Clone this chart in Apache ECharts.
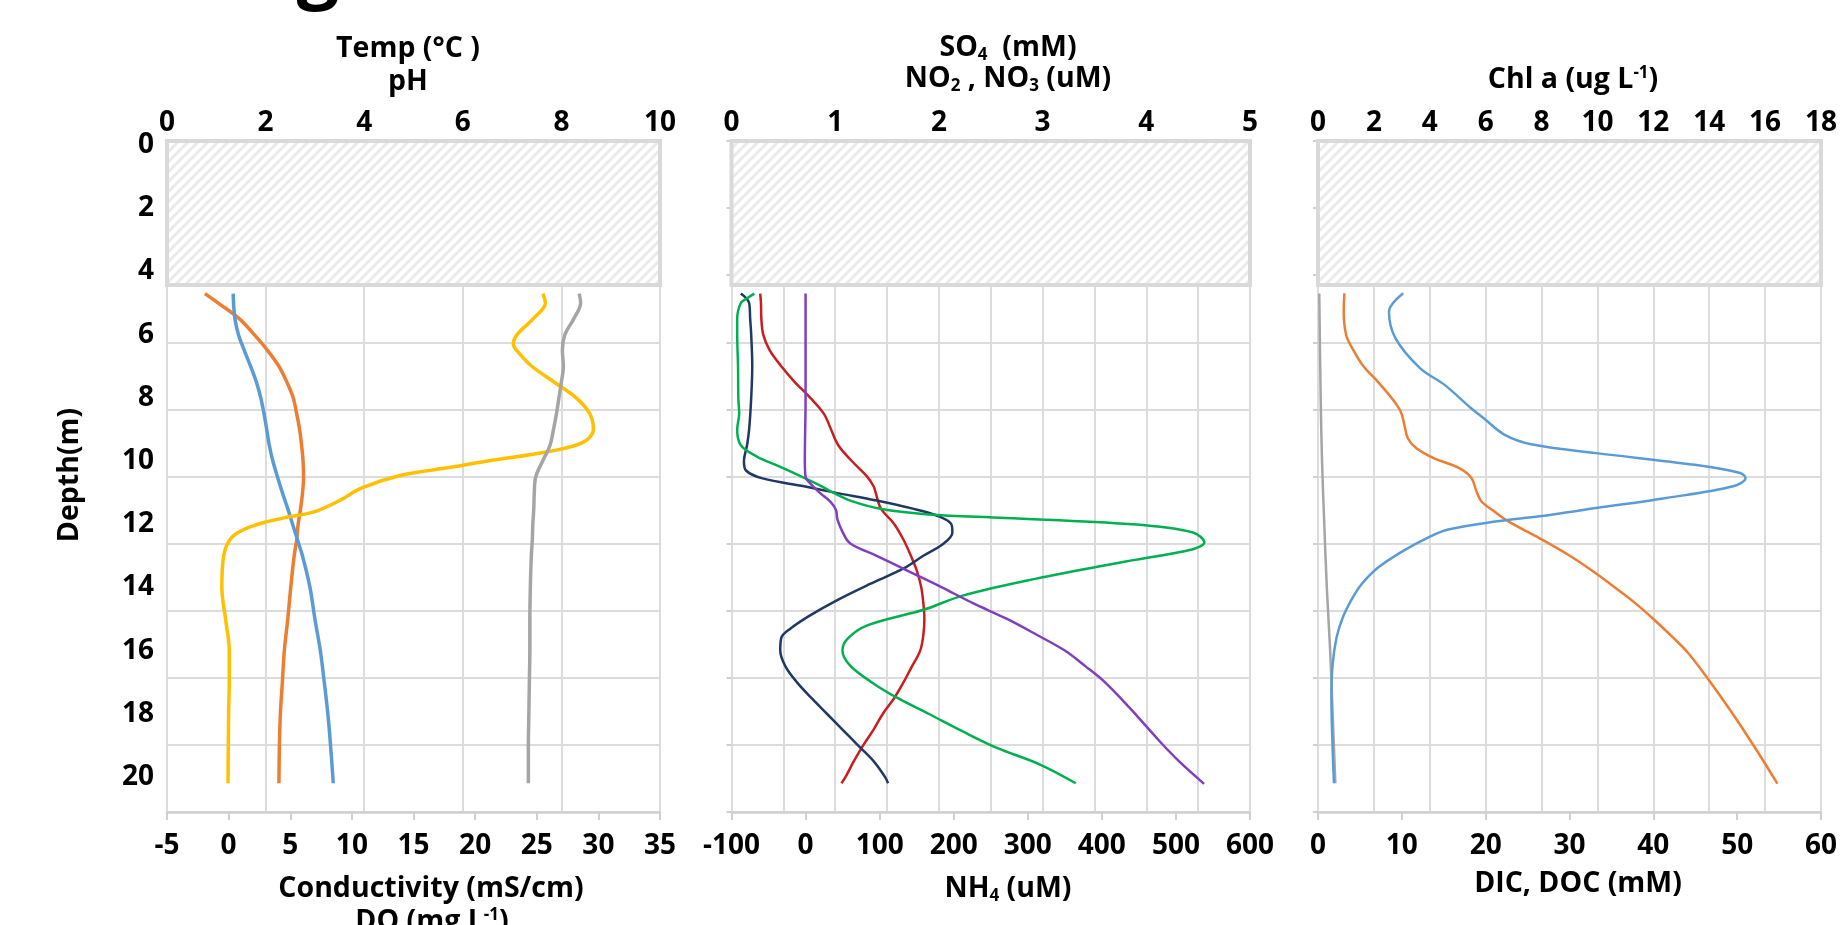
<!DOCTYPE html>
<html>
<head>
<meta charset="utf-8">
<script src="https://cdn.jsdelivr.net/npm/echarts@6/dist/echarts.min.js"></script>
<style>
  html, body { margin: 0; padding: 0; background: #fff; }
  #main { width: 1840px; height: 925px; }
</style>
</head>
<body>
<div id="main"></div>
<script>
// depth axis (m), the hatched band has no data
var DEPTH_MIN = -0.13, DEPTH_MAX = 21.11, HATCH_BOTTOM = 4.43;
var DEPTH_TICKS_MAX = 20;

// panel 1 : Temp, pH (top axis)  /  Conductivity, DO (bottom axis)
var p1Depth = [4.7, 5, 5.5, 6, 6.5, 7, 7.5, 8, 8.5, 9, 9.5, 10, 10.5, 11, 11.5, 12, 12.5, 13, 14, 15, 16, 17, 18, 19, 20.2];
var tempVal = [0.77, 1.04, 1.47, 1.77, 2.04, 2.27, 2.43, 2.56, 2.63, 2.69, 2.73, 2.76, 2.77, 2.75, 2.71, 2.66, 2.63, 2.58, 2.51, 2.45, 2.38, 2.34, 2.30, 2.28, 2.27];
var condVal = [0.37, 0.40, 0.51, 0.80, 1.27, 1.78, 2.25, 2.61, 2.87, 3.09, 3.30, 3.59, 3.96, 4.36, 4.79, 5.19, 5.59, 5.99, 6.60, 7.00, 7.44, 7.76, 8.05, 8.27, 8.49];
var phVal = [8.36, 8.39, 8.25, 8.07, 8.02, 8.04, 8.00, 7.95, 7.90, 7.84, 7.77, 7.62, 7.48, 7.45, 7.44, 7.42, 7.41, 7.39, 7.37, 7.36, 7.36, 7.35, 7.34, 7.33, 7.33];
var doDepth = [4.7, 5, 5.5, 6, 6.3, 6.6, 7, 7.5, 8, 8.5, 9, 9.4, 9.7, 10.0, 10.2, 10.45, 10.85, 11.25, 11.6, 11.8, 12.05, 12.4, 13, 14, 15, 16, 17, 18, 20.2];
var doVal = [25.5, 25.7, 24.7, 23.4, 23.1, 23.6, 24.6, 26.4, 28.2, 29.3, 29.6, 28.8, 26.0, 21.0, 18.0, 14.0, 10.8, 9.0, 7.0, 4.5, 2.0, 0.3, -0.4, -0.55, -0.25, 0.05, 0.05, 0.0, -0.05];

// panel 2 : SO4 (mM), NO2, NO3 (uM) (top axis)  /  NH4 (uM) (bottom axis)
var so4Depth = [4.7, 5, 5.5, 6, 6.5, 7, 7.5, 8, 8.5, 9, 9.5, 10, 10.5, 10.8, 11, 11.5, 12, 12.5, 13, 13.5, 14, 14.5, 15, 15.5, 16, 16.5, 17, 17.5, 18, 18.5, 19, 19.5, 20, 20.2];
var so4Val = [0.277, 0.284, 0.288, 0.306, 0.369, 0.48, 0.61, 0.76, 0.89, 0.96, 1.03, 1.16, 1.31, 1.37, 1.39, 1.44, 1.57, 1.66, 1.73, 1.79, 1.83, 1.85, 1.86, 1.85, 1.82, 1.74, 1.66, 1.57, 1.46, 1.37, 1.27, 1.18, 1.10, 1.06];
var no3Depth = [4.7, 5, 5.5, 6, 7, 8, 9, 9.5, 10, 10.3, 10.55, 10.8, 11, 11.25, 11.5, 11.75, 12, 12.26, 12.6, 13, 13.4, 13.9, 14.4, 14.9, 15.3, 15.6, 16, 16.5, 17, 17.5, 18, 18.5, 19, 19.5, 20, 20.2];
var no3Val = [0.09, 0.17, 0.18, 0.19, 0.20, 0.19, 0.17, 0.15, 0.12, 0.14, 0.30, 0.70, 1.00, 1.40, 1.74, 2.00, 2.12, 2.13, 2.05, 1.85, 1.66, 1.33, 1.02, 0.75, 0.57, 0.48, 0.47, 0.52, 0.63, 0.77, 0.92, 1.07, 1.22, 1.37, 1.48, 1.51];
var no2Depth = [4.7, 4.85, 5, 5.5, 6, 7, 8, 8.5, 9, 9.5, 9.85, 10.17, 10.5, 10.8, 11, 11.27, 11.53, 11.69, 11.8, 12, 12.26, 12.58, 12.79, 13.21, 13.73, 14.26, 14.7, 15.2, 15.62, 16, 16.46, 17, 17.5, 18, 18.56, 19.08, 19.6, 20.2];
var no2Val = [0.22, 0.15, 0.09, 0.055, 0.055, 0.063, 0.066, 0.074, 0.055, 0.09, 0.24, 0.46, 0.68, 0.87, 0.98, 1.16, 1.46, 1.90, 2.64, 3.86, 4.45, 4.56, 4.45, 3.75, 2.93, 2.23, 1.86, 1.31, 1.12, 1.07, 1.14, 1.35, 1.60, 1.90, 2.23, 2.56, 2.97, 3.32];
var nh4Depth = [4.7, 6, 8, 10, 10.5, 10.7, 11, 11.3, 11.55, 11.85, 12.25, 12.6, 13, 13.5, 14, 14.5, 15, 15.5, 16, 16.5, 17, 17.8, 18.87, 19.5, 20.22];
var nh4Val = [0, 0, 0, -1, 0, 6, 19, 34, 41, 43, 50, 60, 96, 140, 184, 226, 272, 312, 350, 378, 404, 437, 478, 504, 538];

// panel 3 : Chl a (top axis)  /  DIC, DOC (bottom axis)
var docDepth = [4.7, 8, 10, 12, 14, 16, 18, 20.2];
var docVal = [0.15, 0.32, 0.48, 0.75, 1.05, 1.45, 1.75, 2.07];
var dicDepth = [4.69, 5.27, 6.01, 6.48, 7.01, 7.48, 8.01, 8.43, 8.85, 9.27, 9.59, 9.91, 10.22, 10.54, 10.96, 11.28, 11.59, 11.91, 12.44, 12.96, 13.49, 14.02, 14.49, 15.0, 15.6, 16.06, 16.85, 17.86, 19.02, 20.21];
var dicVal = [3.15, 3.07, 3.36, 4.2, 5.45, 7.1, 8.8, 9.86, 10.3, 10.7, 11.7, 13.8, 16.8, 18.3, 18.9, 19.5, 21.0, 22.7, 26.4, 29.8, 32.8, 35.5, 37.8, 40.0, 42.4, 44.1, 46.4, 49.1, 52.0, 54.8];
var chlDepth = [4.69, 5.27, 6.11, 7.06, 7.59, 8.33, 8.64, 9.17, 9.48, 9.75, 10.12, 10.38, 10.54, 10.8, 11.17, 11.49, 11.75, 11.91, 12.17, 12.44, 12.86, 13.38, 13.91, 14.39, 14.97, 15.6, 16.48, 17.5, 19.0, 20.2];
var chlVal = [3.05, 2.54, 2.77, 3.65, 4.53, 5.48, 5.92, 6.68, 7.68, 9.95, 13.48, 15.11, 15.3, 14.86, 12.47, 9.95, 7.93, 6.42, 4.66, 3.9, 3.02, 2.14, 1.55, 1.2, 0.88, 0.66, 0.52, 0.48, 0.52, 0.57];

var FONT = '"Open Sans", "Noto Sans", sans-serif';
var GRID_TOP = 141, GRID_H = 671;
var GRID_LINE = '#dcdcdc';
var TICK_SIZE = 28, TITLE_SIZE = 28.5;

function hatchPattern() {
    var c = document.createElement('canvas');
    c.width = 10; c.height = 10;
    var g = c.getContext('2d');
    g.fillStyle = '#fff';
    g.fillRect(0, 0, 10, 10);
    g.strokeStyle = '#eaeaea';
    g.lineWidth = 3;
    g.beginPath();
    g.moveTo(-5, 15); g.lineTo(15, -5);
    g.moveTo(-10, 10); g.lineTo(10, -10);
    g.moveTo(0, 20); g.lineTo(20, 0);
    g.stroke();
    return c;
}
var hatch = hatchPattern();

function pairs(vals, depths) {
    return vals.map(function (v, i) { return [v, depths[i]]; });
}

function profile(name, vals, depths, color, width, xIdx, yIdx) {
    return {
        name: name, type: 'line', xAxisIndex: xIdx, yAxisIndex: yIdx,
        data: pairs(vals, depths), smooth: 0.35, showSymbol: false, symbol: 'none',
        silent: true, lineStyle: { color: color, width: width }, itemStyle: { color: color }
    };
}

function withHatch(s) {
    s.markArea = {
        silent: true,
        label: { show: false },
        itemStyle: { color: { image: hatch, repeat: 'repeat' }, borderColor: '#d9d9d9', borderWidth: 4, opacity: 1 },
        data: [[{ yAxis: DEPTH_MIN }, { yAxis: HATCH_BOTTOM }]]
    };
    return s;
}

var tickLabel = { fontSize: TICK_SIZE, fontWeight: 'bold', fontFamily: FONT, color: '#000' };

function bottomAxis(grid, min, max, interval) {
    return {
        type: 'value', gridIndex: grid, position: 'bottom', min: min, max: max, interval: interval,
        axisLine: { show: true, onZero: false, lineStyle: { color: '#d0d0d0', width: 2.5 } },
        axisTick: { show: true, length: 8, lineStyle: { color: '#d0d0d0', width: 2 } },
        axisLabel: Object.assign({ margin: 20 }, tickLabel),
        splitLine: { show: false }
    };
}

function topAxis(grid, min, max, interval, fmt) {
    return {
        type: 'value', gridIndex: grid, position: 'top', min: min, max: max, interval: interval,
        axisLine: { show: false }, axisTick: { show: false },
        axisLabel: Object.assign({ margin: 4, formatter: fmt }, tickLabel),
        splitLine: { show: true, lineStyle: { color: GRID_LINE, width: 2 } }
    };
}

function depthAxis(grid) {
    return { type: 'value', gridIndex: grid, inverse: true, min: DEPTH_MIN, max: DEPTH_MAX, show: false };
}

function rowLines(grid, ticks) {
    return {
        type: 'value', gridIndex: grid, min: 0, max: 10, interval: 1, position: 'left',
        axisLine: { show: false },
        axisTick: { show: ticks, length: 5, lineStyle: { color: '#d0d0d0', width: 2 } },
        axisLabel: { show: false },
        splitLine: { show: true, lineStyle: { color: GRID_LINE, width: 2 } }
    };
}

// the depth labels sit on their own grid, 0..20 m, scaled like the data grids
var span = DEPTH_MAX - DEPTH_MIN;
var labelTop = GRID_TOP + (0 - DEPTH_MIN) / span * GRID_H;
var labelH = DEPTH_TICKS_MAX / span * GRID_H;

function rich(extra) {
    var base = { fontSize: TITLE_SIZE, fontWeight: 'bold', fontFamily: FONT, fill: '#000' };
    return Object.assign(base, extra || {});
}
var richSet = {
    b: rich(),
    sub: rich({ fontSize: 17, padding: [15, 0, 0, 0] }),
    sup: rich({ fontSize: 17, padding: [0, 0, 13, 0] })
};

function title(x, y, text) {
    return {
        type: 'text', x: x, y: y, silent: true,
        style: { text: text, rich: richSet, align: 'center', verticalAlign: 'middle', fontSize: TITLE_SIZE, fontWeight: 'bold', fontFamily: FONT, fill: '#000' }
    };
}

var option = {
    animation: false,
    backgroundColor: '#fff',
    grid: [
        { left: 167, top: GRID_TOP, width: 493, height: GRID_H },
        { left: 731.5, top: GRID_TOP, width: 518.5, height: GRID_H },
        { left: 1318, top: GRID_TOP, width: 512, height: GRID_H },
        { left: 167, top: labelTop, width: 493, height: labelH }
    ],
    xAxis: [
        bottomAxis(0, -5, 35, 5),
        topAxis(0, 0, 10, 2),
        bottomAxis(1, -100, 600, 100),
        topAxis(1, 0, 5, 0.5, function (v) { return Number.isInteger(v) ? String(v) : ''; }),
        bottomAxis(2, 0, 60, 10),
        topAxis(2, 0, 18, 2),
        { type: 'value', gridIndex: 3, show: false }
    ],
    yAxis: [
        depthAxis(0), rowLines(0, false),
        depthAxis(1), rowLines(1, true),
        depthAxis(2), rowLines(2, true),
        {
            type: 'value', gridIndex: 3, inverse: true, min: 0, max: DEPTH_TICKS_MAX, interval: 2,
            axisLine: { show: false }, axisTick: { show: false }, splitLine: { show: false },
            axisLabel: Object.assign({ margin: 13 }, tickLabel)
        }
    ],
    graphic: [
        // cut-off panel letter at the very top of the figure
        { type: 'text', x: 318, y: 10, silent: true, style: { text: 'g', align: 'center', verticalAlign: 'bottom', fontSize: 75, fontWeight: 'bold', fontFamily: FONT, fill: '#000' } },
        { type: 'text', x: 70, y: 475, rotation: Math.PI / 2, silent: true, style: { text: 'Depth(m)', align: 'center', verticalAlign: 'middle', fontSize: TITLE_SIZE, fontWeight: 'bold', fontFamily: FONT, fill: '#000' } },
        title(408, 49, '{b|Temp (°C )}'),
        title(408, 82, '{b|pH}'),
        title(1008, 48, '{b|SO}{sub|4}{b|  (mM)}'),
        title(1008, 79, '{b|NO}{sub|2}{b| , NO}{sub|3}{b| (uM)}'),
        title(1573, 80, '{b|Chl a (ug L}{sup|-1}{b|)}'),
        title(431, 889, '{b|Conductivity (mS/cm)}'),
        title(432, 922, '{b|DO (mg L}{sup|-1}{b|)}'),
        title(1008, 889, '{b|NH}{sub|4}{b| (uM)}'),
        title(1578, 884, '{b|DIC, DOC (mM)}')
    ],
    series: [
        withHatch(profile('Temp', tempVal, p1Depth, '#ED7D31', 3.5, 1, 0)),
        profile('Conductivity', condVal, p1Depth, '#5B9BD5', 3.5, 0, 0),
        profile('DO', doVal, doDepth, '#FFC000', 3.5, 0, 0),
        profile('pH', phVal, p1Depth, '#A5A5A5', 3.5, 1, 0),

        withHatch(profile('SO4', so4Val, so4Depth, '#C81E1E', 2.5, 3, 2)),
        profile('NO3', no3Val, no3Depth, '#203864', 2.5, 3, 2),
        profile('NO2', no2Val, no2Depth, '#00B050', 2.5, 3, 2),
        profile('NH4', nh4Val, nh4Depth, '#7F3FBF', 2.5, 2, 2),

        withHatch(profile('DOC', docVal, docDepth, '#A5A5A5', 2.5, 4, 4)),
        profile('DIC', dicVal, dicDepth, '#ED7D31', 2.5, 4, 4),
        profile('Chl a', chlVal, chlDepth, '#5B9BD5', 2.5, 5, 4)
    ]
};

var chart = echarts.init(document.getElementById('main'));
chart.setOption(option);
</script>
</body>
</html>
